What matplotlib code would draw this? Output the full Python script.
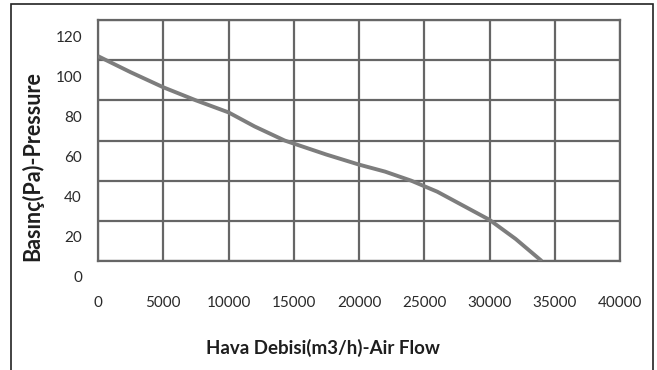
import matplotlib
matplotlib.use("Agg")
import matplotlib.pyplot as plt
import matplotlib.transforms as mtransforms
from matplotlib.patches import Rectangle

# fan curve: air flow (m3/h) vs static pressure (Pa)
flow = [0, 2500, 5000, 7500, 10000, 12000, 14300, 17500, 20000, 22000,
        24000, 26000, 28000, 30000, 32000, 34000]
pressure = [102, 94, 86.5, 80, 74, 67, 60, 53, 48, 44.5,
            40, 34.5, 27.5, 20.5, 11, 0]

xticks = [0, 5000, 10000, 15000, 20000, 25000, 30000, 35000, 40000]
yticks = [0, 20, 40, 60, 80, 100, 120]

grid_col = "#666666"
plt.rcParams['font.family'] = ['Lato', 'DejaVu Sans']

fig = plt.figure(figsize=(6.57, 3.70), dpi=100)
ax = fig.add_axes([98/657, 1-261/370, 522/657, 241/370])

ax.plot(flow, pressure, color="#7d7d7d", lw=2.8, solid_capstyle="butt", zorder=3)

ax.set_xlim(0, 40000)
ax.set_ylim(0, 120)
ax.set_xticks(xticks)
ax.set_yticks(yticks)
ax.grid(True, color=grid_col, lw=1.6)
ax.set_axisbelow(True)
for s in ax.spines.values():
    s.set_color(grid_col)
    s.set_linewidth(1.6)

ax.tick_params(length=0, labelsize=11, labelcolor="#2a2a2a")
ax.tick_params(axis="x", pad=25)
ax.tick_params(axis="y", pad=11.5)

# y labels sit a bit below their grid lines
shift = mtransforms.ScaledTranslation(0, -16/100, fig.dpi_scale_trans)
for lab in ax.get_yticklabels():
    lab.set_transform(lab.get_transform() + shift)

fig.text(323/657, 1-348/370, "Hava Debisi(m3/h)-Air Flow", ha="center", va="center",
         fontsize=13.5, fontweight="bold", color="#1e1e1e")
fig.text(32/657, 1-166/370, "Basınç(Pa)-Pressure", ha="center", va="center",
         rotation=90, fontsize=15.5, fontweight="bold", color="#1e1e1e")

# outer frame
fig.add_artist(Rectangle((11/657, -0.1), (653-11)/657, 1.1-4/370,
                         transform=fig.transFigure, fill=False,
                         edgecolor="#222222", lw=1.2))

fig.savefig("out.png", dpi=100)
